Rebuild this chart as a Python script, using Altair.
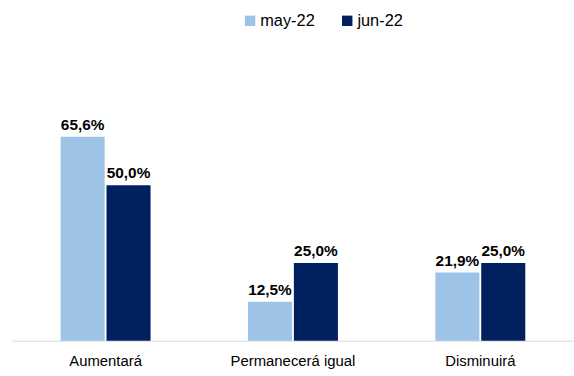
import altair as alt
import pandas as pd

categorias = ["Aumentará", "Permanecerá igual", "Disminuirá"]
series = ["may-22", "jun-22"]
may_22 = [65.6, 12.5, 21.9]
jun_22 = [50.0, 25.0, 25.0]
colores = ["#9DC3E6", "#002060"]

rows = []
for i, c in enumerate(categorias):
    rows.append({"cat": c, "serie": series[0], "valor": may_22[i]})
    rows.append({"cat": c, "serie": series[1], "valor": jun_22[i]})
df = pd.DataFrame(rows)
df["etiqueta"] = df["valor"].map(lambda v: f"{v:.1f}".replace(".", ",") + "%")

base = alt.Chart(df).encode(
    x=alt.X("cat:N", sort=categorias, title=None,
            scale=alt.Scale(paddingInner=0.52, paddingOuter=0.26),
            axis=alt.Axis(labelAngle=0, ticks=False, domainColor="#D9D9D9",
                          labelFont="Liberation Sans", labelFontSize=15,
                          labelColor="#000000", labelPadding=13)),
    xOffset=alt.XOffset("serie:N", sort=series,
                        scale=alt.Scale(paddingInner=0.04, paddingOuter=0)),
    y=alt.Y("valor:Q", scale=alt.Scale(domain=[0, 80]), axis=None),
)

bars = base.mark_bar().encode(
    color=alt.Color("serie:N", sort=series,
                    scale=alt.Scale(domain=series, range=colores),
                    legend=alt.Legend(title=None, orient="none", direction="horizontal",
                                      legendX=232, legendY=-80, symbolType="square",
                                      symbolSize=110, symbolStrokeWidth=0,
                                      labelFont="Liberation Sans", labelFontSize=16.5,
                                      labelColor="#000000", labelOffset=2,
                                      columnPadding=24))
)

text = base.mark_text(dy=-12, fontWeight="bold", font="Liberation Sans",
                      fontSize=15.5, color="#000000").encode(text="etiqueta:N")

chart = (bars + text).properties(
    width=567, height=251,
    padding={"left": 12, "top": 91, "right": 0, "bottom": 34},
    autosize=alt.AutoSizeParams(type="none"),
    background="#FFFFFF",
).configure_view(strokeWidth=0, stroke="transparent")

chart.save("out.html", embed_options={"renderer": "svg", "actions": False})
